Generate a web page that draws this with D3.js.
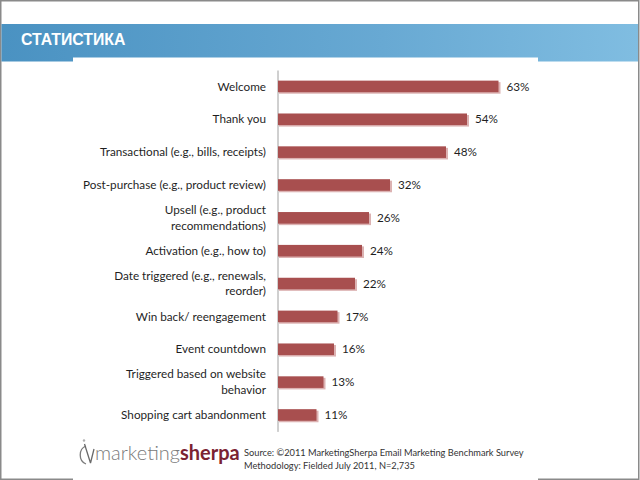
<!DOCTYPE html>
<html>
<head>
<meta charset="utf-8">
<script src="https://cdn.jsdelivr.net/npm/d3@7"></script>
<style>
  html, body { margin: 0; padding: 0; background: #ffffff; }
  svg { display: block; }
</style>
</head>
<body>
<svg id="chart" width="640" height="480"></svg>
<script>
// ---- data ----
const title = "СТАТИСТИКА";
const categories = [
  "Welcome",
  "Thank you",
  "Transactional (e.g., bills, receipts)",
  "Post-purchase (e.g., product review)",
  "Upsell (e.g., product\nrecommendations)",
  "Activation (e.g., how to)",
  "Date triggered (e.g., renewals,\nreorder)",
  "Win back/ reengagement",
  "Event countdown",
  "Triggered based on website\nbehavior",
  "Shopping cart abandonment"
];
const values = [63, 54, 48, 32, 26, 24, 22, 17, 16, 13, 11];
const sourceLines = [
  "Source: ©2011 MarketingSherpa Email Marketing Benchmark Survey",
  "Methodology: Fielded July 2011, N=2,735"
];
const logoParts = ["marketing", "sherpa"];

// ---- drawing ----
const svg = d3.select("#chart");
const W = 640, H = 480;
const labelFont = "Lato, 'Open Sans', sans-serif";

// pick a font size so that a reference string gets a target width
function fitSize(str, target, base) {
  const t = svg.append("text").attr("font-family", labelFont).attr("font-size", base).text(str);
  const w = t.node().getComputedTextLength();
  t.remove();
  return w > 0 ? base * target / w : base;
}
const labelSize = fitSize("Post-purchase (e.g., product review)", 183, 13);
const sourceSize = fitSize(sourceLines[0], 280, 11);

const defs = svg.append("defs");
const grad = defs.append("linearGradient").attr("id", "band").attr("x1", "0").attr("x2", "1").attr("y1", "0").attr("y2", "0");
grad.append("stop").attr("offset", "0").attr("stop-color", "#4a92c2");
grad.append("stop").attr("offset", "0.6").attr("stop-color", "#68a9d3");
grad.append("stop").attr("offset", "1").attr("stop-color", "#80bde1");

// page background + frame
svg.append("rect").attr("x", 0).attr("y", 0).attr("width", W).attr("height", H).attr("fill", "#ffffff");
svg.append("rect").attr("x", 0.75).attr("y", 0.75).attr("width", W - 2).attr("height", H - 1.5)
  .attr("fill", "none").attr("stroke", "#8a8a8a").attr("stroke-width", 1.5);

// header band
svg.append("rect").attr("x", 1.5).attr("y", 24).attr("width", W - 3.5).attr("height", 37.5).attr("fill", "url(#band)");
svg.append("text").attr("x", 21).attr("y", 44.5).text(title)
  .attr("font-family", "'Liberation Sans', Arial, sans-serif").attr("font-weight", "bold")
  .attr("font-size", 15.8).attr("fill", "#ffffff");

// embedded chart picture area (white)
svg.append("rect").attr("x", 73).attr("y", 57.5).attr("width", 465).attr("height", H - 57.5).attr("fill", "#ffffff");

// scales
const x = d3.scaleLinear().domain([0, 100]).range([278, 628]);
const y = d3.scaleBand().domain(categories).range([70, 431.4]).paddingInner(0.647).paddingOuter(0.3235);

// axis (vertical line only)
const axis = d3.axisLeft(y).tickSize(0).tickFormat("");
const gAxis = svg.append("g").attr("transform", "translate(277.5,0)").call(axis);
gAxis.select(".domain").attr("stroke", "#a0a0a0").attr("stroke-width", 1);

const rows = svg.append("g").selectAll("g").data(categories).join("g");

// bar shadows
rows.append("rect")
  .attr("x", x(0) + 1)
  .attr("y", d => y(d) + 1.5)
  .attr("width", (d, i) => x(values[i]) - x(0) + 1)
  .attr("height", y.bandwidth())
  .attr("fill", "#dcb2b2");
// bars
rows.append("rect")
  .attr("x", x(0))
  .attr("y", d => y(d))
  .attr("width", (d, i) => x(values[i]) - x(0))
  .attr("height", y.bandwidth())
  .attr("fill", "#a84f4f");

// value labels
rows.append("text")
  .attr("x", (d, i) => x(values[i]) + 8)
  .attr("y", d => y(d) + y.bandwidth() / 2)
  .attr("dy", "0.35em")
  .attr("font-family", labelFont).attr("font-size", labelSize).attr("fill", "#1f1f1f")
  .text((d, i) => values[i] + "%");

// category labels
rows.append("text")
  .attr("text-anchor", "end")
  .attr("font-family", labelFont).attr("font-size", labelSize).attr("fill", "#1f1f1f")
  .each(function (d) {
    const lines = d.split("\n");
    const cy = y(d) + y.bandwidth() / 2;
    const lh = 15.5;
    const t = d3.select(this);
    lines.forEach((ln, k) => {
      t.append("tspan").attr("x", 266)
        .attr("y", cy + (k - (lines.length - 1) / 2) * lh)
        .attr("dy", "0.35em").text(ln);
    });
  });

// logo
const logo = svg.append("g");
logo.append("circle").attr("cx", 84).attr("cy", 440.5).attr("r", 1.2).attr("fill", "#b0b0b0");
logo.append("path").attr("d", "M86,446 A8.5,9.5 0 0 0 86,464").attr("fill", "none").attr("stroke", "#7a7a7a").attr("stroke-width", 1.3);
logo.append("path").attr("d", "M84.5,444 L90.5,463 M90.5,463 L94,449").attr("fill", "none").attr("stroke", "#6a6a6a").attr("stroke-width", 1.3);
const logoText = logo.append("text").attr("x", 95).attr("y", 460)
  .attr("font-family", "Lato, 'Open Sans', sans-serif").attr("font-size", 20);
logoText.append("tspan").attr("fill", "#7a7a7a").attr("font-weight", 300).text(logoParts[0]);
logoText.append("tspan").attr("fill", "#7b2232").attr("font-weight", "bold").text(logoParts[1]);

// source text
svg.append("g").selectAll("text").data(sourceLines).join("text")
  .attr("x", 244).attr("y", (d, i) => 456 + i * 12.5)
  .attr("font-family", labelFont).attr("font-size", sourceSize).attr("fill", "#333333")
  .text(d => d);
</script>
</body>
</html>
